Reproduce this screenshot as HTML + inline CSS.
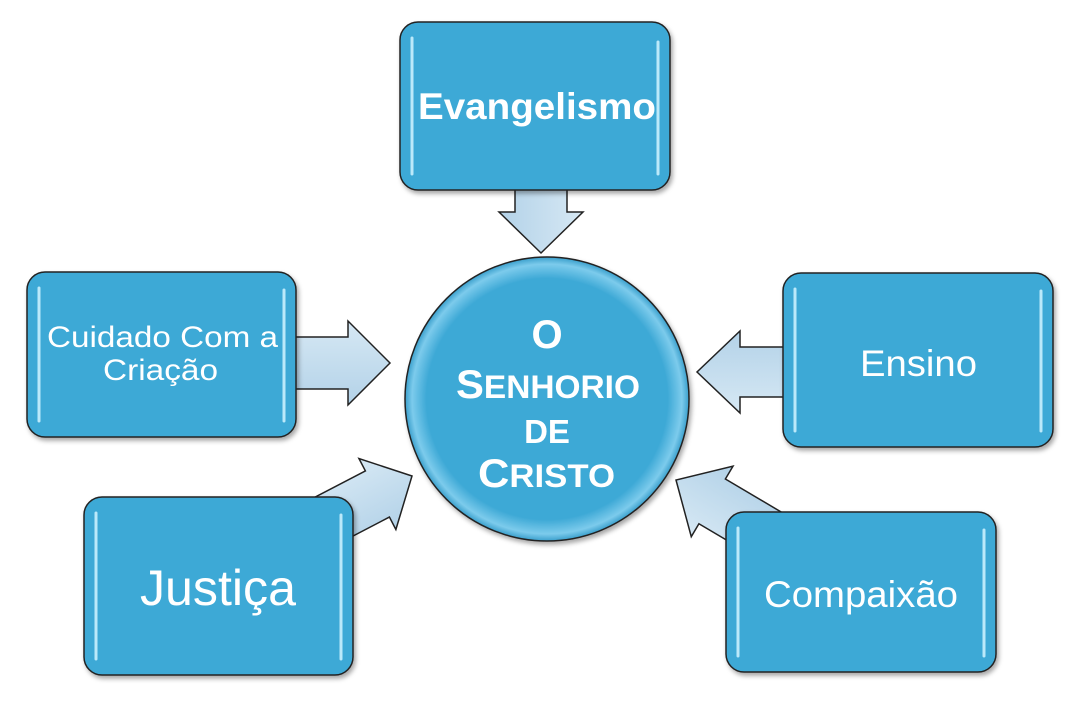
<!DOCTYPE html>
<html><head><meta charset="utf-8"><style>
html,body{margin:0;padding:0;background:#fff;}
svg{display:block;font-family:"Liberation Sans",sans-serif;}
</style></head><body>
<svg width="1072" height="701" viewBox="0 0 1072 701">
<defs>
<filter id="sh" x="-10%" y="-10%" width="130%" height="130%"><feDropShadow dx="2" dy="3" stdDeviation="2.5" flood-color="#000" flood-opacity="0.35"/></filter>
<linearGradient id="ag" x1="0" y1="0" x2="0" y2="1"><stop offset="0" stop-color="#d6e8f4"/><stop offset="1" stop-color="#b3d2e8"/></linearGradient>
<radialGradient id="cg" cx="0.5" cy="0.5" r="0.5"><stop offset="0.85" stop-color="#3ea9d6"/><stop offset="0.95" stop-color="#7ccbec"/><stop offset="1" stop-color="#3a9fcc"/></radialGradient>
</defs>
<g fill="url(#ag)" stroke="#222" stroke-width="1.5" stroke-linejoin="miter">
<polygon transform="translate(541,253) rotate(90)" points="0,0 -41,-42 -41,-26 -70,-26 -70,26 -41,26 -41,42"/>
<polygon transform="translate(390,363)" points="0,0 -42,-42 -42,-26 -100,-26 -100,26 -42,26 -42,42"/>
<polygon transform="translate(697,372) rotate(180)" points="0,0 -43,-41 -43,-25 -90,-25 -90,25 -43,25 -43,41"/>
<polygon transform="translate(412,476) rotate(-27.5)" points="0,0 -39,-40 -39,-26 -110,-26 -110,26 -39,26 -39,40"/>
<polygon transform="translate(676,480) rotate(210.6)" points="0,0 -42,-41 -42,-26 -120,-26 -120,26 -42,26 -42,41"/>
</g>
<g fill="#3ea9d6" stroke="#222" stroke-width="1.5" filter="url(#sh)">
<rect x="400" y="22" width="270" height="168" rx="18"/>
<rect x="27" y="272" width="269" height="165" rx="18"/>
<rect x="84" y="497" width="269" height="178" rx="18"/>
<rect x="783" y="273" width="270" height="174" rx="18"/>
<rect x="726" y="512" width="270" height="160" rx="18"/>
<circle cx="547" cy="399" r="142" fill="url(#cg)"/>
</g>
<g stroke="#c9f0ff" stroke-width="3" stroke-linecap="round" opacity="0.9">
<line x1="412" y1="38" x2="412" y2="174"/><line x1="658" y1="42" x2="658" y2="174"/>
<line x1="39" y1="288" x2="39" y2="421"/><line x1="284" y1="290" x2="284" y2="421"/>
<line x1="96" y1="513" x2="96" y2="659"/><line x1="341" y1="515" x2="341" y2="659"/>
<line x1="795" y1="289" x2="795" y2="431"/><line x1="1041" y1="291" x2="1041" y2="431"/>
<line x1="738" y1="528" x2="738" y2="656"/><line x1="984" y1="530" x2="984" y2="656"/>
</g>
<g fill="#fff">
<text x="418" y="119" font-size="37" font-weight="bold" textLength="238" lengthAdjust="spacingAndGlyphs">Evangelismo</text>
<text x="47" y="347" font-size="30" textLength="231" lengthAdjust="spacingAndGlyphs">Cuidado Com a</text>
<text x="103" y="380" font-size="30" textLength="115" lengthAdjust="spacingAndGlyphs">Criação</text>
<text x="140" y="605" font-size="50" textLength="156" lengthAdjust="spacingAndGlyphs">Justiça</text>
<text x="860" y="376" font-size="37" textLength="117" lengthAdjust="spacingAndGlyphs">Ensino</text>
<text x="764" y="607" font-size="37" textLength="194" lengthAdjust="spacingAndGlyphs">Compaixão</text>
<g font-weight="bold">
<text x="547" y="348" font-size="40" text-anchor="middle">O</text>
<text x="456" y="398" font-size="32" textLength="184" lengthAdjust="spacingAndGlyphs"><tspan font-size="40">S</tspan>ENHORIO</text>
<text x="547" y="443" font-size="33" text-anchor="middle">DE</text>
<text x="478" y="487" font-size="32" textLength="137" lengthAdjust="spacingAndGlyphs"><tspan font-size="40">C</tspan>RISTO</text>
</g>
</g>
</svg>
</body></html>
